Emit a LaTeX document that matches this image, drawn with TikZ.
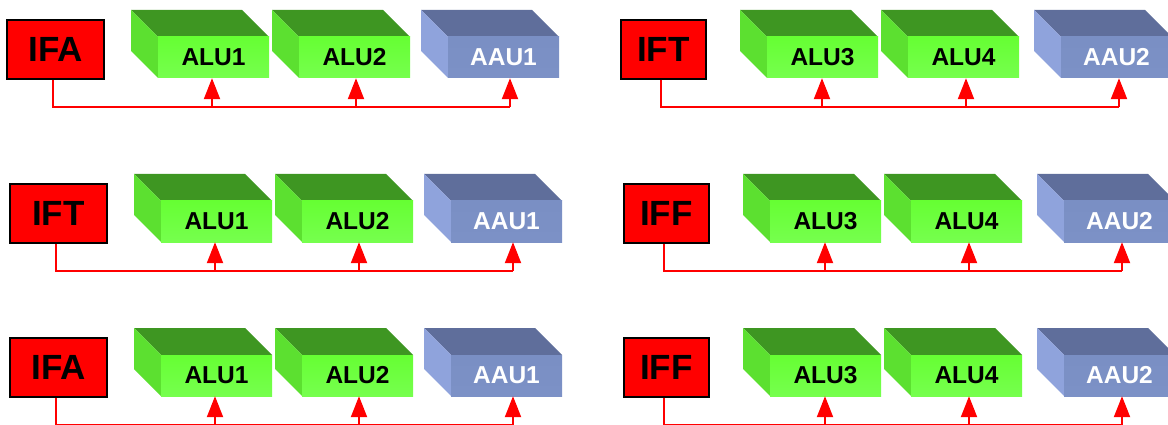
\documentclass[tikz,border=0pt]{standalone}
\usepackage{fontspec}
\setmainfont{Liberation Sans}
\usetikzlibrary{arrows.meta}

\definecolor{gfrontA}{HTML}{66FF33}
\definecolor{gfrontB}{HTML}{76FF4E}
\definecolor{gsideC}{HTML}{5CE030}
\definecolor{gtopC}{HTML}{3E9622}
\definecolor{bfrontA}{HTML}{7A8FC4}
\definecolor{bfrontB}{HTML}{7C91C6}
\definecolor{bsideC}{HTML}{8FA3DC}
\definecolor{btopC}{HTML}{5F6E9B}

\tikzset{
  gtop/.style={fill=gtopC},
  gside/.style={fill=gsideC},
  gfront/.style={top color=gfrontA, bottom color=gfrontB, text=black},
  btop/.style={fill=btopC},
  bside/.style={fill=bsideC},
  bfront/.style={top color=bfrontA, bottom color=bfrontB, text=white},
  front/.style={rectangle, minimum width=111pt, minimum height=41pt, inner sep=0pt,
    font=\fontsize{24.5}{24.5}\selectfont\bfseries},
  ifbox/.style={rectangle, fill=red, draw=black, line width=1.8pt, minimum height=59pt,
    inner sep=0pt, font=\fontsize{35}{35}\selectfont\bfseries},
  bus/.style={draw=red, line width=2.2pt},
  busarrow/.style={draw=red, line width=2.2pt, -{Triangle[width=16pt,length=21pt]}},
}

% a unit drawn as a box: top face, left face and a named front face
% #1 name, #2 back-left x, #3 top y, #4 label, #5 colour set (g or b)
\newcommand\unitbox[5]{%
  \fill[#5top] (#2,#3) -- ++(111,0) -- ++(27,27) -- ++(-111,0) -- cycle;
  \fill[#5side] (#2,#3) -- ++(27,27) -- ++(0,41) -- ++(-27,-27) -- cycle;
  \node[front, #5front] (#1) at (#2+82.5,#3+47.5) {#4};
}

\begin{document}
\begin{tikzpicture}[x=1pt, y=-1pt]
\useasboundingbox (0,0) rectangle (1168,425);
\clip (0,0) rectangle (1168,425);

\foreach \r/\dx/\dy/\lt/\rt in {1/0/0/IFA/IFT, 2/3/164/IFT/IFF, 3/3/318/IFA/IFF}{
  \begin{scope}[shift={(\dx,\dy)}]
    % left group
    \node[ifbox, minimum width=97pt] (Lif\r) at (55.5,49.5) {\lt};
    \unitbox{La\r}{131}{10}{ALU1}{g}
    \unitbox{Lb\r}{272}{10}{ALU2}{g}
    \unitbox{Lc\r}{421}{10}{AAU1}{b}
    \coordinate (Lend\r) at (510,107);
    \draw[bus] ([xshift=-2.5pt]Lif\r.south) |- (Lend\r);
    \draw[busarrow] ([xshift=-1.5pt]La\r.south |- Lend\r) -- ([xshift=-1.5pt]La\r.south);
    \draw[busarrow] ([xshift=1.5pt]Lb\r.south |- Lend\r) -- ([xshift=1.5pt]Lb\r.south);
    \draw[busarrow] (Lend\r) -- (Lend\r |- Lc\r.south);

    % right group
    \node[ifbox, minimum width=85pt] (Rif\r) at (663.5,49.5) {\rt};
    \unitbox{Ra\r}{740}{10}{ALU3}{g}
    \unitbox{Rb\r}{881}{10}{ALU4}{g}
    \unitbox{Rc\r}{1034}{10}{AAU2}{b}
    \coordinate (Rend\r) at (1119,107);
    \draw[bus] ([xshift=-2.5pt]Rif\r.south) |- (Rend\r);
    \draw[busarrow] ([xshift=-0.5pt]Ra\r.south |- Rend\r) -- ([xshift=-0.5pt]Ra\r.south);
    \draw[busarrow] ([xshift=2.5pt]Rb\r.south |- Rend\r) -- ([xshift=2.5pt]Rb\r.south);
    \draw[busarrow] (Rend\r) -- (Rend\r |- Rc\r.south);
  \end{scope}
}
\end{tikzpicture}
\end{document}
